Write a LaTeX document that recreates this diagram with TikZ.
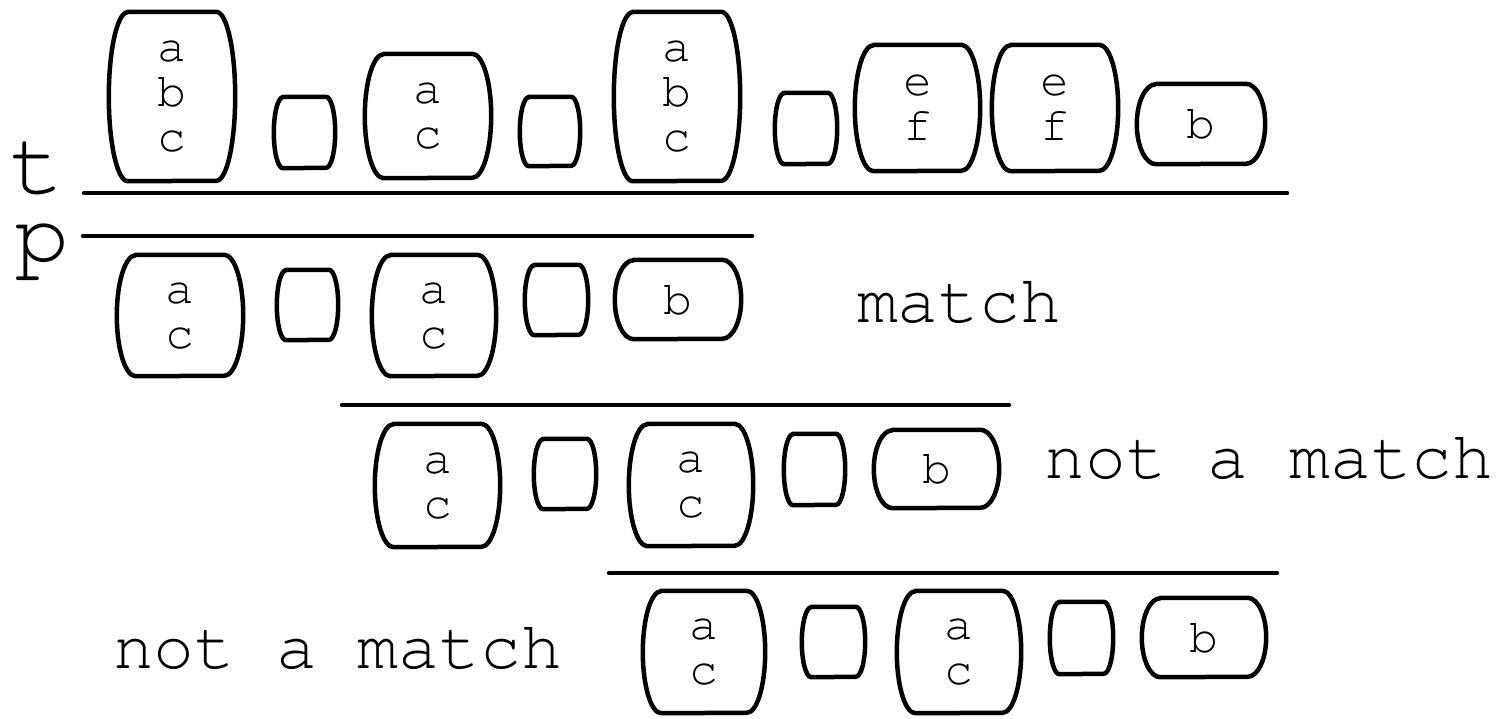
\documentclass[tikz,border=0pt]{standalone}
\usepackage[T1]{fontenc}
\newcommand{\cour}[2]{\fontencoding{T1}\fontfamily{pcr}\fontsize{#1}{#2}\selectfont}

\tikzset{
  caskbox/.style={inner sep=0pt,align=center,font=\cour{48}{45}},
  caskline/.style={line width=4.5pt},
  rule/.style={line width=4.5pt},
  word/.style={inner sep=0pt,anchor=base,font=\cour{68}{68}},
  tag/.style={inner sep=0pt,anchor=base,font=\cour{92}{92}}
}

% name, x, y, width, height, text
\newcommand{\cask}[6]{%
  \pgfmathsetmacro{\caskr}{0.15*#4}%
  \pgfmathsetmacro{\caskh}{#5/2}%
  \node[caskbox,minimum width=#4pt,minimum height=#5pt] (#1) at (#2,#3) {#6};
  \draw[caskline] ([xshift=\caskr pt]#1.north west) -- ([xshift=-\caskr pt]#1.north east)
    arc[start angle=90,end angle=-90,x radius=\caskr pt,y radius=\caskh pt]
    -- ([xshift=\caskr pt]#1.south west)
    arc[start angle=270,end angle=90,x radius=\caskr pt,y radius=\caskh pt] -- cycle;
}

\begin{document}
\begin{tikzpicture}[x=1pt,y=-1pt,line cap=round,line join=round]
  \useasboundingbox (0,0) rectangle (1502,719);

  % text
  \node[tag,text depth=0pt] (t) at (37,194) {t};
  \cask{txt1}{172}{96.5}{126}{169}{a\\b\\c}
  \cask{txt2}{304.5}{132.5}{61}{71}{}
  \cask{txt3}{428}{116}{126}{124}{a\\c}
  \cask{txt4}{550}{131.5}{60}{69}{}
  \cask{txt5}{677}{96.5}{126}{169}{a\\b\\c}
  \cask{txt6}{806}{128.5}{62}{71}{}
  \cask{txt7}{917.5}{108}{125}{126}{e\\f}
  \cask{txt8}{1055}{108}{126}{126}{e\\f}
  \cask{txt9}{1201}{124}{128}{80}{b}
  \draw[rule] (84,193) -- (1287,193);

  % pattern, first shift
  \node[tag,text height=0.42em] (p) at (42,264) {p};
  \draw[rule] (83,236) -- (752,236);
  \cask{pat1}{180}{315.5}{126}{121}{a\\c}
  \cask{pat2}{307.5}{305}{61}{70}{}
  \cask{pat3}{434}{315.5}{124}{121}{a\\c}
  \cask{pat4}{556.5}{300}{63}{70}{}
  \cask{pat5}{678}{299.5}{126}{79}{b}
  \node[word] (res1) at (959,323) {match};

  % second shift
  \draw[rule] (342,405) -- (1009,405);
  \cask{mid1}{437.5}{485.5}{125}{123}{a\\c}
  \cask{mid2}{565}{474}{62}{70}{}
  \cask{mid3}{691}{485}{124}{122}{a\\c}
  \cask{mid4}{814.5}{469.5}{61}{71}{}
  \cask{mid5}{936.5}{469}{125}{78}{b}
  \node[word] (res2) at (1269,478) {not a match};

  % third shift
  \draw[rule] (609,573) -- (1277,573);
  \cask{low1}{704}{652}{122}{122}{a\\c}
  \cask{low2}{833.5}{642}{63}{70}{}
  \cask{low3}{959}{652}{124}{122}{a\\c}
  \cask{low4}{1081.5}{638}{63}{72}{}
  \cask{low5}{1204}{637.5}{124}{79}{b}
  \node[word] (res3) at (337.5,668) {not a match};
\end{tikzpicture}
\end{document}
